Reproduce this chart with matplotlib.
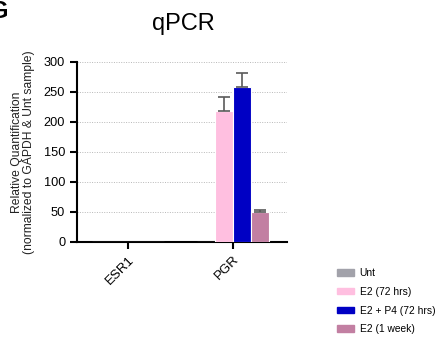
import matplotlib
matplotlib.use("Agg")
import matplotlib.pyplot as plt
import numpy as np

plt.rcParams['font.family'] = ['Liberation Sans', 'DejaVu Sans']

genes = ["ESR1", "PGR"]
groups = ["Unt", "E2 (72 hrs)", "E2 + P4 (72 hrs)", "E2 (1 week)"]
means = {
    "Unt": [0.5, 0.5],
    "E2 (72 hrs)": [0.3, 219],
    "E2 + P4 (72 hrs)": [0.3, 259],
    "E2 (1 week)": [0.3, 49.5],
}
errors = {
    "Unt": [0, 0],
    "E2 (72 hrs)": [0, 23],
    "E2 + P4 (72 hrs)": [0, 23],
    "E2 (1 week)": [0, 4],
}
colors = ["#a2a2aa", "#ffbfe0", "#0000c4", "#c27fa2"]

fig = plt.figure(figsize=(4.39, 3.38), dpi=100)
ax = fig.add_axes([77/439, 1 - 242/338, 210/439, 180/338])

x = np.arange(len(genes))
w = 0.171
for i, g in enumerate(groups):
    off = (i - 1.5) * w
    ax.bar(x + off, means[g], width=w, color=colors[i], edgecolor='white',
           linewidth=0.8, zorder=3)
    err = np.array(errors[g], dtype=float)
    m = err > 0
    if m.any():
        ax.errorbar((x + off)[m], np.array(means[g])[m],
                    yerr=[np.zeros(m.sum()), err[m]],
                    fmt='none', ecolor='#5a5a5a', elinewidth=1.2, capsize=4,
                    capthick=1.2, zorder=4)

ax.set_ylim(0, 300)
ax.set_xlim(-0.486, 1.514)
ax.set_yticks([0, 50, 100, 150, 200, 250, 300])
ax.yaxis.grid(True, linestyle=(0, (1, 1.5)), color='#b8b8b8', linewidth=0.7, zorder=0)
ax.set_axisbelow(True)
for s in ['top', 'right']:
    ax.spines[s].set_visible(False)
for s in ['left', 'bottom']:
    ax.spines[s].set_linewidth(1.5)
ax.tick_params(axis='both', direction='out', width=1.5, length=5, labelsize=9.2)
ax.set_xticks(x)
ax.set_xticklabels(genes, rotation=45, ha='right', rotation_mode='anchor', fontsize=9.5)
ax.set_ylabel("Relative Quantification\n(normalized to GAPDH & Unt sample)",
              fontsize=8.7, labelpad=6, color='#222222', linespacing=1.1)

fig.text(183/439, 1 - 24/338, "qPCR", fontsize=17, ha='center', va='center')
fig.text(9/439, 1 - 12/338, "G", fontsize=17, fontweight='bold', va='center', ha='right')

handles = [plt.Rectangle((0, 0), 1, 1, color=c) for c in colors]
fig.legend(handles, groups, loc='upper left', bbox_to_anchor=(333/439, 1 - 264/338),
           frameon=False, fontsize=7.4, handlelength=1.6, handleheight=0.6,
           labelspacing=0.85, handletextpad=0.6, borderaxespad=0)

fig.savefig("out.png", dpi=100)
